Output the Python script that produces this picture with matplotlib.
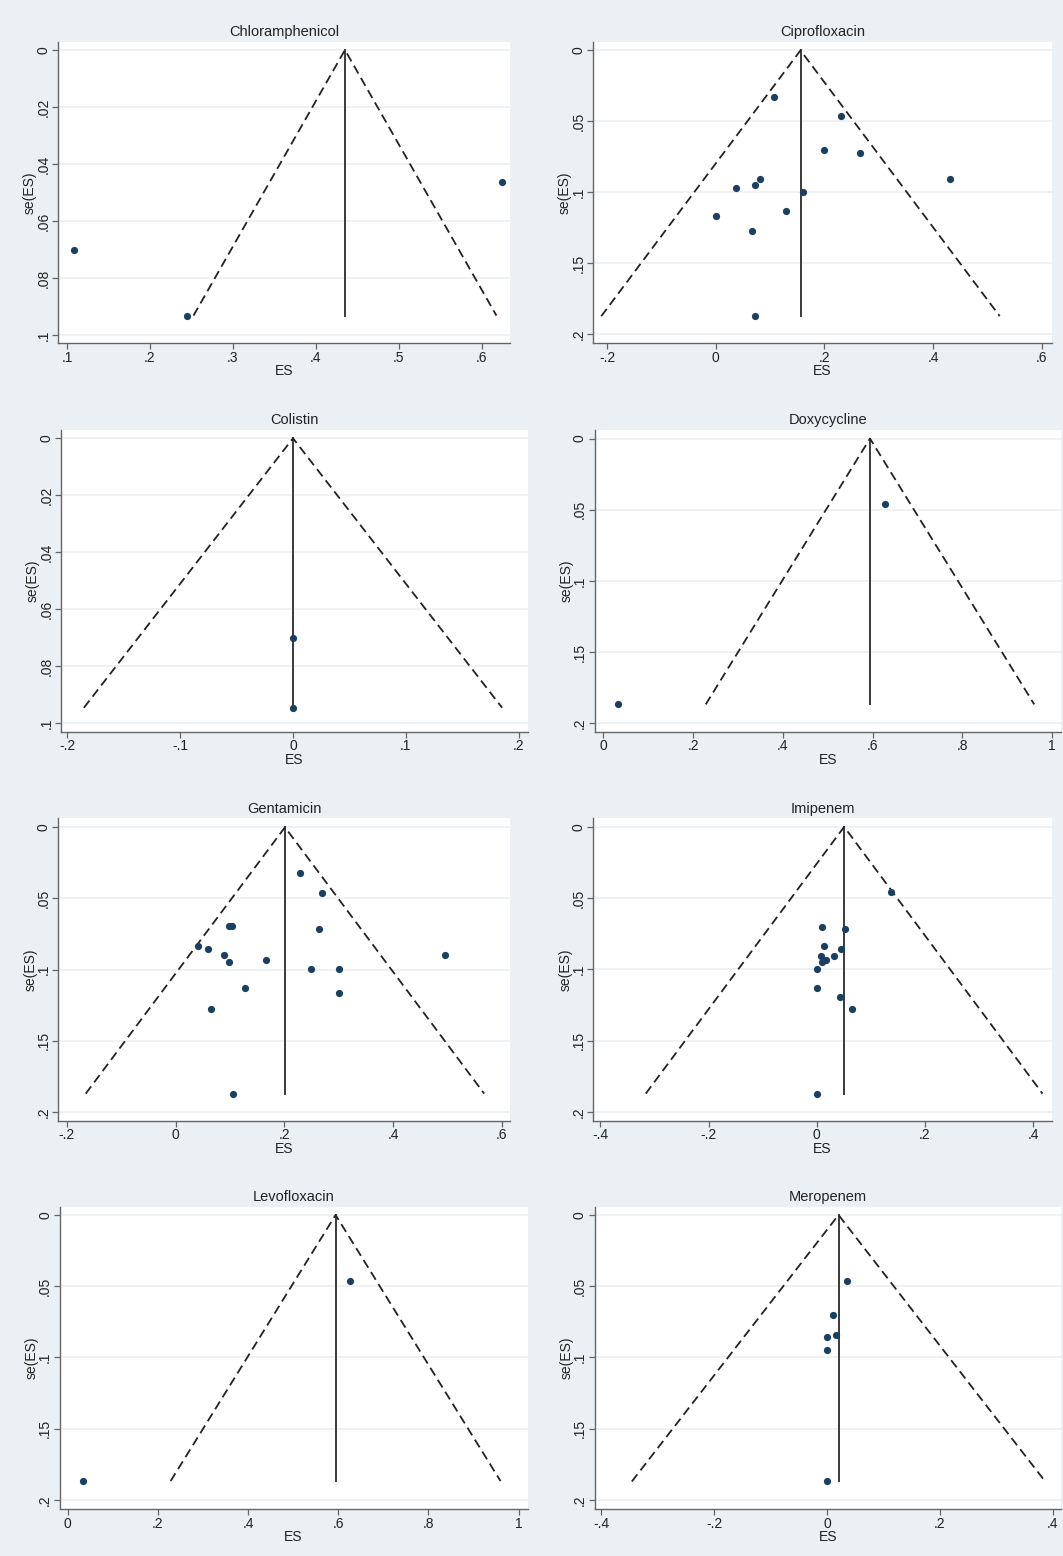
import matplotlib
matplotlib.use('Agg')
import matplotlib.pyplot as plt
from matplotlib.ticker import FixedLocator, FuncFormatter

plt.rcParams['font.family'] = ['Liberation Sans', 'DejaVu Sans']

# effect sizes (ES) and standard errors se(ES) per antibiotic
chlor_es = [0.108, 0.245, 0.624]
chlor_se = [0.0702, 0.0932, 0.0462]
chlor_pooled = 0.435

cipro_es = [0.108, 0.230, 0.199, 0.265, 0.432, 0.082, 0.073, 0.038, 0.161, 0.129, 0.000, 0.066, 0.072]
cipro_se = [0.0326, 0.0462, 0.0701, 0.0720, 0.0905, 0.0905, 0.0945, 0.0970, 0.0994, 0.1128, 0.1165, 0.1275, 0.1871]
cipro_pooled = 0.156

colistin_es = [0.0, 0.0]
colistin_se = [0.0702, 0.0945]
colistin_pooled = 0.0

doxy_es = [0.627, 0.032]
doxy_se = [0.0461, 0.1867]
doxy_pooled = 0.594

genta_es = [0.229, 0.269, 0.0975, 0.1035, 0.264, 0.0405, 0.0588, 0.0894, 0.495, 0.0986,
            0.1655, 0.249, 0.300, 0.1275, 0.301, 0.065, 0.106]
genta_se = [0.0324, 0.046, 0.0694, 0.0694, 0.0715, 0.0832, 0.0853, 0.090, 0.090, 0.0945,
            0.0933, 0.0992, 0.0992, 0.1125, 0.1163, 0.1275, 0.187]
genta_pooled = 0.201

imip_es = [0.137, 0.0104, 0.0517, 0.014, 0.0443, 0.0326, 0.0074, 0.017, 0.0104, 0.0, 0.0, 0.043, 0.065, 0.0]
imip_se = [0.046, 0.070, 0.0718, 0.0835, 0.0856, 0.0903, 0.0903, 0.0935, 0.0947, 0.0994, 0.1127, 0.119, 0.1277, 0.187]
imip_pooled = 0.0505

levo_es = [0.627, 0.034]
levo_se = [0.0461, 0.1867]
levo_pooled = 0.594

mero_es = [0.035, 0.011, 0.016, 0.0005, 0.0, 0.0]
mero_se = [0.0465, 0.0702, 0.084, 0.0858, 0.0945, 0.187]
mero_pooled = 0.0205

titles = ['Chloramphenicol', 'Ciprofloxacin', 'Colistin', 'Doxycycline',
          'Gentamicin', 'Imipenem', 'Levofloxacin', 'Meropenem']

x_ticks = [
    [0.1, 0.2, 0.3, 0.4, 0.5, 0.6],
    [-0.2, 0.0, 0.2, 0.4, 0.6],
    [-0.2, -0.1, 0.0, 0.1, 0.2],
    [0.0, 0.2, 0.4, 0.6, 0.8, 1.0],
    [-0.2, 0.0, 0.2, 0.4, 0.6],
    [-0.4, -0.2, 0.0, 0.2, 0.4],
    [0.0, 0.2, 0.4, 0.6, 0.8, 1.0],
    [-0.4, -0.2, 0.0, 0.2, 0.4],
]
y_ticks_small = [0.0, 0.02, 0.04, 0.06, 0.08, 0.1]
y_ticks_large = [0.0, 0.05, 0.1, 0.15, 0.2]

panels = [
    (chlor_es, chlor_se, chlor_pooled),
    (cipro_es, cipro_se, cipro_pooled),
    (colistin_es, colistin_se, colistin_pooled),
    (doxy_es, doxy_se, doxy_pooled),
    (genta_es, genta_se, genta_pooled),
    (imip_es, imip_se, imip_pooled),
    (levo_es, levo_se, levo_pooled),
    (mero_es, mero_se, mero_pooled),
]

# layout: plot boxes in pixels (left, top, right, bottom) and axis ranges
W, H = 1063, 1556
boxes = [
    (58, 42, 510, 343), (593, 42, 1052, 343),
    (61, 430, 527.5, 731.7), (594.6, 430, 1061, 731.7),
    (58.3, 818.3, 510, 1120.7), (593.3, 818.3, 1051.7, 1120.7),
    (59.7, 1206.7, 527.5, 1509), (594.6, 1206.7, 1061, 1509),
]
xlims = [(0.089, 0.634), (-0.226, 0.619), (-0.2055, 0.2077), (-0.0196, 1.0196),
         (-0.216, 0.615), (-0.413, 0.434), (-0.018, 1.0197), (-0.412, 0.415)]
ylims = [(0.1028, -0.0028), (0.206, -0.0059), (0.1029, -0.0029), (0.2059, -0.006),
         (0.206, -0.0063), (0.206, -0.006), (0.2063, -0.0058), (0.2063, -0.0058)]

bg = '#eaf0f3'
navy = '#1a3f63'
axis_col = '#666666'


def stata_fmt(v, pos):
    v = round(v, 4)
    if v == 0:
        return '0'
    return ('%g' % v).replace('0.', '.')


fig = plt.figure(figsize=(W / 100, H / 100), dpi=100, facecolor=bg)

for i, (es, se, pooled) in enumerate(panels):
    l, t, r, b = boxes[i]
    ax = fig.add_axes([l / W, 1 - b / H, (r - l) / W, (b - t) / H])
    ax.set_facecolor('white')
    ax.set_xlim(*xlims[i])
    ax.set_ylim(*ylims[i])

    yt = y_ticks_small if i in (0, 2) else y_ticks_large
    ax.xaxis.set_major_locator(FixedLocator(x_ticks[i]))
    ax.yaxis.set_major_locator(FixedLocator(yt))
    ax.xaxis.set_major_formatter(FuncFormatter(stata_fmt))
    ax.yaxis.set_major_formatter(FuncFormatter(stata_fmt))

    for yv in yt:
        ax.axhline(yv, color='#edf1f3', linewidth=1.3, zorder=0)

    for side in ('top', 'right'):
        ax.spines[side].set_visible(False)
    for side in ('left', 'bottom'):
        ax.spines[side].set_color(axis_col)
        ax.spines[side].set_linewidth(1.0)
    ax.tick_params(axis='both', direction='out', length=4, width=0.9, color=axis_col,
                   labelsize=10, labelcolor='#222222', pad=1.5)
    ax.tick_params(axis='y', labelrotation=90)
    for lab in ax.get_yticklabels():
        lab.set_va('center')

    # funnel: pooled estimate line and pseudo 95% limits
    semax = max(se)
    ax.plot([pooled, pooled], [0, semax], color='#3a3a3a', linewidth=1.4, zorder=2)
    ax.plot([pooled - 1.96 * semax, pooled, pooled + 1.96 * semax], [semax, 0, semax],
            color='#222222', linewidth=1.3, linestyle=(0, (5, 2.8)), zorder=2)
    ax.plot(es, se, 'o', color=navy, markersize=5.2, markeredgewidth=0, zorder=3)

    ax.set_title(titles[i], fontsize=10.5, color='#222222', pad=4)
    wpx, hpx = r - l, b - t
    ax.set_ylabel('se(ES)', fontsize=10, color='#222222')
    ax.yaxis.set_label_coords(-28 / wpx, 0.5)
    ax.yaxis.label.set_va('center')
    ax.set_xlabel('ES', fontsize=10, color='#222222')
    ax.xaxis.set_label_coords(0.5, -28 / hpx)
    ax.xaxis.label.set_va('center')

fig.savefig('out.png', dpi=100, facecolor=bg)
